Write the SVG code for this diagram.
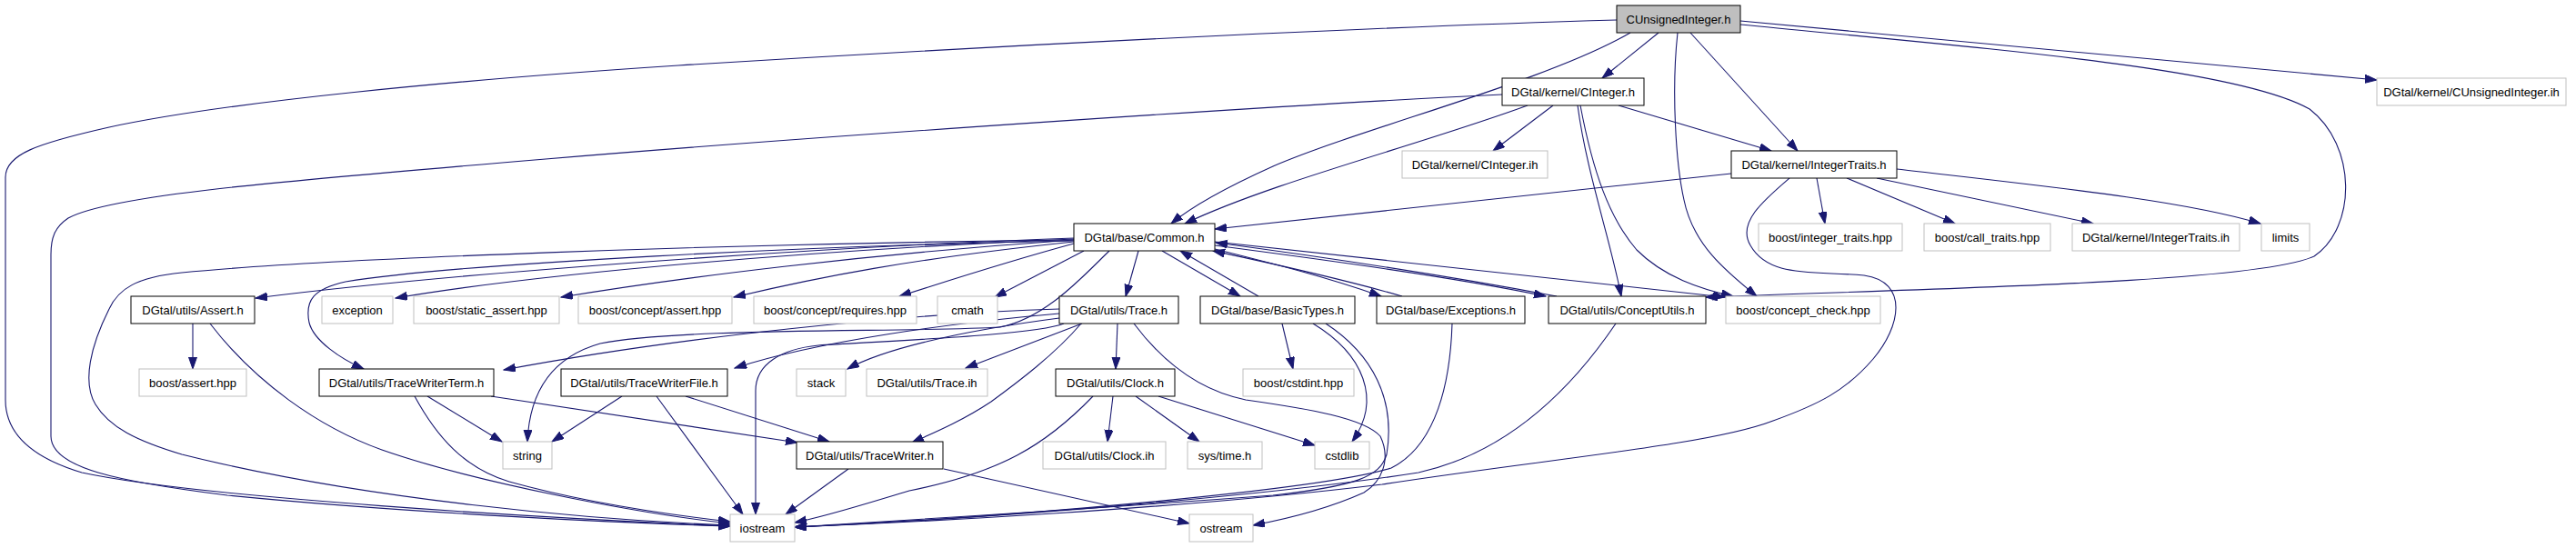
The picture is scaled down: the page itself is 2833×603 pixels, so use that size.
<svg xmlns="http://www.w3.org/2000/svg" width="2833" height="603" viewBox="0 0 2833 603">
<style>
.n rect{fill:#fff;stroke:#000;stroke-width:1}
.g rect{fill:#fff;stroke:#bfbfbf;stroke-width:1}
.root rect{fill:#bfbfbf;stroke:#000;stroke-width:1}
text{font-family:"Liberation Sans",Arial,Helvetica,sans-serif;font-size:13px;fill:#000;text-anchor:middle}
#edges path{fill:none;stroke:#191970;stroke-width:1.1;marker-end:url(#ah)}
</style>
<defs>
<marker id="ah" markerUnits="userSpaceOnUse" markerWidth="14" markerHeight="10" refX="13" refY="4.5" orient="auto">
<path d="M0,0 L13,4.5 L0,9 z" fill="#191970" stroke="#191970" stroke-width="1"/>
</marker>
</defs>
<rect x="0" y="0" width="2833" height="603" fill="#fff"/>
<g id="edges">
<path d="M1778,22 C1500,30 1100,50 746,72 C500,88 250,112 120,140 C40,158 6,170 6,195 L6,440 C6,480 40,505 90,520 C220,548 600,570 803,579"/>
<path d="M1793,36 C1700,90 1500,140 1400,183 C1340,210 1305,232 1288,246"/>
<path d="M1824,36 L1762,86"/>
<path d="M1859,36 L1977,166"/>
<path d="M1845,36 C1838,100 1843,180 1852,220 C1862,270 1900,300 1932,326"/>
<path d="M1914,23 L2614,88"/>
<path d="M1914,27 C2200,55 2460,75 2540,120 C2592,160 2592,250 2545,282 C2480,312 2100,318 1876,327"/>
<path d="M1652,104 C1400,116 900,150 600,175 C300,200 120,215 75,240 C60,250 56,262 56,280 L56,480 C56,515 130,530 250,545 C450,565 700,576 803,579"/>
<path d="M1680,116 C1560,160 1400,200 1303,246"/>
<path d="M1708,116 L1642,166"/>
<path d="M1780,116 L1948,166"/>
<path d="M1735,116 C1745,190 1770,260 1783,326"/>
<path d="M1738,116 C1752,190 1770,240 1800,275 C1830,305 1870,318 1906,326"/>
<path d="M1904,191 L1336,252"/>
<path d="M1998,196 L2007,246"/>
<path d="M2031,196 L2150,246"/>
<path d="M2064,196 L2302,246"/>
<path d="M2086,186 C2250,205 2400,220 2486,246"/>
<path d="M1968,196 C1940,220 1910,245 1925,270 C1945,305 1990,298 2050,303 C2100,310 2090,360 2060,395 C2030,430 2000,445 1950,463 C1880,490 1700,505 1520,533 C1300,560 1000,575 874,580"/>
<path d="M1181,262 C900,272 500,300 281,328"/>
<path d="M1181,263 C900,275 600,300 435,328"/>
<path d="M1181,264 C950,280 750,305 617,327"/>
<path d="M1181,266 C1000,285 900,305 807,327"/>
<path d="M1181,268 C1100,290 1040,310 989,326"/>
<path d="M1192,276 L1094,327"/>
<path d="M1252,276 L1238,326"/>
<path d="M1278,276 L1364,326"/>
<path d="M1332,273 C1400,290 1460,305 1519,326"/>
<path d="M1336,270 C1450,285 1600,305 1700,326"/>
<path d="M1336,266 C1550,290 1750,310 1897,327"/>
<path d="M1181,264 C800,268 350,285 200,300 C150,305 130,318 120,340 C100,380 90,420 105,445 C120,470 150,485 200,500 C400,550 650,572 803,578"/>
<path d="M1181,265 C900,270 500,290 380,310 C345,318 335,330 340,355 C345,375 375,395 400,406"/>
<path d="M1220,276 C1190,305 1150,350 1100,360 C1000,366 750,360 660,378 C600,395 582,440 580,486"/>
<path d="M1384,326 L1298,276"/>
<path d="M1542,326 C1470,305 1390,288 1334,276"/>
<path d="M1712,326 C1600,305 1450,282 1337,267"/>
<path d="M1165,340 C1000,345 750,370 554,407"/>
<path d="M1165,345 C1050,355 900,375 808,405"/>
<path d="M1165,350 C1050,365 970,385 932,406"/>
<path d="M1190,356 L1062,405"/>
<path d="M1229,356 L1227,406"/>
<path d="M1189,356 C1160,390 1120,420 1090,442 C1060,462 1030,475 1003,487"/>
<path d="M1170,356 C1140,368 1000,374 900,380 C860,384 831,400 831,430 L831,566"/>
<path d="M1247,356 C1280,400 1320,430 1370,440 C1440,450 1500,460 1518,480 C1530,505 1520,530 1500,542 C1460,560 1410,572 1378,578"/>
<path d="M212,356 L212,406"/>
<path d="M231,356 C280,420 350,470 420,495 C520,530 700,565 803,576"/>
<path d="M470,436 L552,486"/>
<path d="M456,436 C480,480 510,515 560,530 C650,555 750,568 803,574"/>
<path d="M540,436 L877,487"/>
<path d="M684,436 L607,486"/>
<path d="M722,436 L817,566"/>
<path d="M754,436 L912,486"/>
<path d="M933,516 L864,566"/>
<path d="M1038,516 L1308,576"/>
<path d="M1224,436 L1218,486"/>
<path d="M1249,436 L1319,486"/>
<path d="M1274,436 L1446,490"/>
<path d="M1202,436 C1150,490 1100,520 1000,540 C950,555 910,568 874,575"/>
<path d="M1410,356 L1422,406"/>
<path d="M1444,356 C1500,390 1520,440 1487,486"/>
<path d="M1458,356 C1510,390 1535,440 1525,500 C1518,525 1490,535 1400,545 C1200,560 1000,572 874,580"/>
<path d="M1597,356 C1595,420 1580,490 1530,515 C1450,540 1100,570 874,580"/>
<path d="M1777,356 C1720,440 1650,500 1560,520 C1400,545 1100,570 874,580"/>
</g>
<g id="n_cui" class="root"><rect x="1778" y="6" width="136" height="30"/><text x="1846" y="25.5">CUnsignedInteger.h</text></g>
<g id="n_cint" class="n"><rect x="1652" y="86" width="156" height="30"/><text x="1730" y="105.5">DGtal/kernel/CInteger.h</text></g>
<g id="n_cuih" class="g"><rect x="2614" y="86" width="208" height="30"/><text x="2718" y="105.5">DGtal/kernel/CUnsignedInteger.ih</text></g>
<g id="n_ciih" class="g"><rect x="1542" y="166" width="160" height="30"/><text x="1622" y="185.5">DGtal/kernel/CInteger.ih</text></g>
<g id="n_it" class="n"><rect x="1904" y="166" width="182" height="30"/><text x="1995" y="185.5">DGtal/kernel/IntegerTraits.h</text></g>
<g id="n_common" class="n"><rect x="1181" y="246" width="155" height="30"/><text x="1258.5" y="265.5">DGtal/base/Common.h</text></g>
<g id="n_bit" class="g"><rect x="1934" y="246" width="158" height="30"/><text x="2013" y="265.5">boost/integer_traits.hpp</text></g>
<g id="n_bct" class="g"><rect x="2116" y="246" width="139" height="30"/><text x="2185.5" y="265.5">boost/call_traits.hpp</text></g>
<g id="n_itih" class="g"><rect x="2279" y="246" width="184" height="30"/><text x="2371" y="265.5">DGtal/kernel/IntegerTraits.ih</text></g>
<g id="n_limits" class="g"><rect x="2487" y="246" width="53" height="30"/><text x="2513.5" y="265.5">limits</text></g>
<g id="n_assert" class="n"><rect x="144" y="326" width="136" height="30"/><text x="212" y="345.5">DGtal/utils/Assert.h</text></g>
<g id="n_exception" class="g"><rect x="354" y="326" width="78" height="30"/><text x="393" y="345.5">exception</text></g>
<g id="n_sa" class="g"><rect x="455" y="326" width="160" height="30"/><text x="535" y="345.5">boost/static_assert.hpp</text></g>
<g id="n_ca" class="g"><rect x="636" y="326" width="169" height="30"/><text x="720.5" y="345.5">boost/concept/assert.hpp</text></g>
<g id="n_cr" class="g"><rect x="829" y="326" width="179" height="30"/><text x="918.5" y="345.5">boost/concept/requires.hpp</text></g>
<g id="n_cmath" class="g"><rect x="1031" y="326" width="66" height="30"/><text x="1064" y="345.5">cmath</text></g>
<g id="n_trace" class="n"><rect x="1165" y="326" width="131" height="30"/><text x="1230.5" y="345.5">DGtal/utils/Trace.h</text></g>
<g id="n_bt" class="n"><rect x="1320" y="326" width="170" height="30"/><text x="1405" y="345.5">DGtal/base/BasicTypes.h</text></g>
<g id="n_exc" class="n"><rect x="1514" y="326" width="163" height="30"/><text x="1595.5" y="345.5">DGtal/base/Exceptions.h</text></g>
<g id="n_cu" class="n"><rect x="1703" y="326" width="173" height="30"/><text x="1789.5" y="345.5">DGtal/utils/ConceptUtils.h</text></g>
<g id="n_cc" class="g"><rect x="1898" y="326" width="170" height="30"/><text x="1983" y="345.5">boost/concept_check.hpp</text></g>
<g id="n_bassert" class="g"><rect x="153" y="406" width="118" height="30"/><text x="212" y="425.5">boost/assert.hpp</text></g>
<g id="n_twt" class="n"><rect x="351" y="406" width="192" height="30"/><text x="447" y="425.5">DGtal/utils/TraceWriterTerm.h</text></g>
<g id="n_twf" class="n"><rect x="617" y="406" width="183" height="30"/><text x="708.5" y="425.5">DGtal/utils/TraceWriterFile.h</text></g>
<g id="n_stack" class="g"><rect x="876" y="406" width="54" height="30"/><text x="903" y="425.5">stack</text></g>
<g id="n_traceih" class="g"><rect x="953" y="406" width="133" height="30"/><text x="1019.5" y="425.5">DGtal/utils/Trace.ih</text></g>
<g id="n_clock" class="n"><rect x="1161" y="406" width="131" height="30"/><text x="1226.5" y="425.5">DGtal/utils/Clock.h</text></g>
<g id="n_cstdint" class="g"><rect x="1367" y="406" width="122" height="30"/><text x="1428" y="425.5">boost/cstdint.hpp</text></g>
<g id="n_string" class="g"><rect x="553" y="486" width="54" height="30"/><text x="580" y="505.5">string</text></g>
<g id="n_tw" class="n"><rect x="876" y="486" width="161" height="30"/><text x="956.5" y="505.5">DGtal/utils/TraceWriter.h</text></g>
<g id="n_clockih" class="g"><rect x="1147" y="486" width="135" height="30"/><text x="1214.5" y="505.5">DGtal/utils/Clock.ih</text></g>
<g id="n_systime" class="g"><rect x="1306" y="486" width="82" height="30"/><text x="1347" y="505.5">sys/time.h</text></g>
<g id="n_cstdlib" class="g"><rect x="1446" y="486" width="60" height="30"/><text x="1476" y="505.5">cstdlib</text></g>
<g id="n_iostream" class="g"><rect x="803" y="566" width="71" height="30"/><text x="838.5" y="585.5">iostream</text></g>
<g id="n_ostream" class="g"><rect x="1308" y="566" width="70" height="30"/><text x="1343" y="585.5">ostream</text></g>
</svg>
